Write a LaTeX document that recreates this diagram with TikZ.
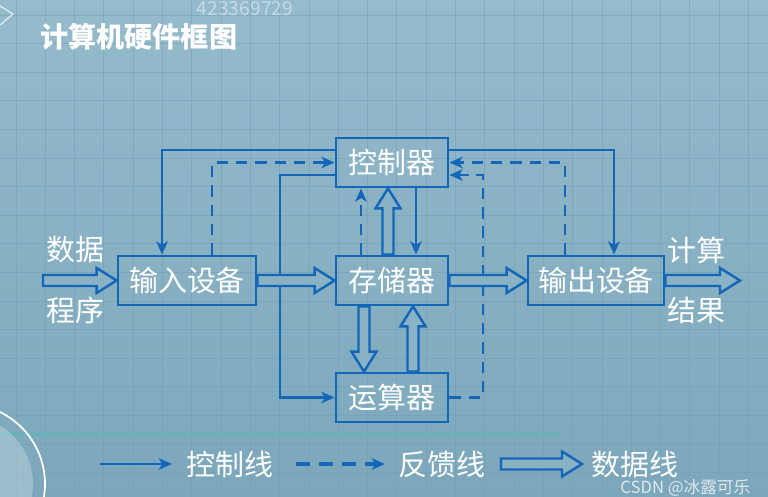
\documentclass[tikz,border=0pt]{standalone}
\usepackage{fontspec}
\setmainfont{Noto Sans CJK SC}
\usetikzlibrary{arrows.meta,calc,positioning}

\definecolor{bgtop}{RGB}{149,187,204}
\definecolor{bgbot}{RGB}{124,167,187}
\definecolor{bgmid}{RGB}{137,178,196}
\definecolor{gridc}{RGB}{112,155,177}
\definecolor{lineblue}{RGB}{20,102,184}
\definecolor{bandc}{RGB}{104,178,186}

\tikzset{
  unitbox/.style={draw=lineblue, line width=1.6pt, inner sep=0pt,
    minimum width=2.24cm, minimum height=0.98cm, text=white,
    font=\fontsize{16.5}{18}\selectfont},
  lbl/.style={inner sep=0pt, text=white, font=\fontsize{16.5}{18}\selectfont},
  ctl/.style={draw=lineblue, line width=1.6pt,
    -{Stealth[length=7.5pt,width=6.5pt,inset=2pt]}},
  fb/.style={ctl, dash pattern=on 6.5pt off 4.5pt},
  dataarrow/.style={draw=lineblue, line width=1.4pt, fill=bgmid,
    to path={($(\tikztotarget)!0.4cm!(\tikztostart)$) coordinate (db)
      ($(\tikztostart)!0.11cm!90:(\tikztotarget)$)
      -- ($(db)!0.11cm!-90:(\tikztostart)$)
      -- ($(db)!0.25cm!-90:(\tikztostart)$)
      -- (\tikztotarget)
      -- ($(db)!0.25cm!90:(\tikztostart)$)
      -- ($(db)!0.11cm!90:(\tikztostart)$)
      -- ($(\tikztostart)!0.11cm!-90:(\tikztotarget)$) -- cycle}},
  gridline/.style={draw=gridc, line width=0.5pt, opacity=0.45}
}

\begin{document}
\begin{tikzpicture}[x=0.02cm, y=-0.02cm]
  \useasboundingbox (0,0) rectangle (768,497);

  % Background
  \shade[top color=bgtop, bottom color=bgbot] (0,0) rectangle (768,497);
  \foreach \i in {0,...,26}
    \draw[gridline] ({16+29.3*\i},0) -- ({16+29.3*\i},497);
  \foreach \i in {0,...,17}
    \draw[gridline] (0,{15+28.6*\i}) -- (768,{15+28.6*\i});
  \draw[bandc, line width=2pt, opacity=0.8] (0,434) -- (560,434);
  \fill[white, opacity=0.25] (-35,484) circle (1.36cm);
  \draw[white, line width=1pt] (-35,484) circle (1.6cm);
  \draw[white, line width=0.6pt, opacity=0.8] (0,6) -- (13,14) -- (0,25);
  \node[text=white, opacity=0.45, font=\fontsize{11}{13}\selectfont] (wm1) at (245,9) {423369729};

  \node[anchor=west, inner sep=0pt, text=white,
    font=\bfseries\fontsize{16}{18}\selectfont] (title) at (40,37) {计算机硬件框图};

  % Units
  \node[unitbox] (ctrl) at (392,162.5) {控制器};
  \node[unitbox, minimum width=2.76cm] (in) at (187,280.5) {输入设备};
  \node[unitbox] (mem) at (392,280.5) {存储器};
  \node[unitbox, minimum width=2.72cm] (out) at (596,280.5) {输出设备};
  \node[unitbox] (alu) at (392,397.5) {运算器};

  \coordinate (lk) at (162,150);
  \coordinate (rk) at (614,150);
  \coordinate (ak1) at (280,175);
  \coordinate (ak2) at (280,397.5);
  \coordinate (cm) at (416,220);
  \coordinate (fk1) at (212,162.5);
  \coordinate (fk2) at (565,162.5);
  \coordinate (fk3) at (483,397.5);
  \coordinate (fk4) at (483,175);
  \coordinate (fm) at (361,220);
  \coordinate (src) at (43,280.5);
  \coordinate (dst) at (740,280.5);
  \coordinate (d1) at (388,220);
  \coordinate (d2) at (364,340);
  \coordinate (d3) at (413,340);

  % Control lines
  \draw[ctl] (ctrl.west |- lk) -- (lk) -- (in.north -| lk);
  \draw[ctl] (ctrl.east |- rk) -- (rk) -- (out.north -| rk);
  \draw[ctl] (ctrl.south -| cm) -- (mem.north -| cm);
  \draw[ctl] (ctrl.west |- ak1) -- (ak1) -- (ak2) -- (alu.west);

  % Feedback lines
  \draw[fb] (in.north -| fk1) -- (fk1) -- (ctrl.west);
  \draw[fb] (mem.north -| fm) -- (ctrl.south -| fm);
  \draw[fb] (out.north -| fk2) -- (fk2) -- (ctrl.east);
  \draw[fb] (alu.east) -- (fk3) -- (fk4) -- (ctrl.east |- fk4);

  % Data lines
  \draw[dataarrow] (src) to (in.west);
  \draw[dataarrow] (in.east) to (mem.west);
  \draw[dataarrow] (mem.east) to (out.west);
  \draw[dataarrow] (out.east) to (dst);
  \draw[dataarrow] (mem.north -| d1) to (ctrl.south -| d1);
  \draw[dataarrow] (mem.south -| d2) to (alu.north -| d2);
  \draw[dataarrow] (alu.north -| d3) to (mem.south -| d3);

  \node[lbl] (inA) at (75,250) {数据};
  \node[lbl] (inB) at (75,310) {程序};
  \node[lbl] (outA) at (696,250) {计算};
  \node[lbl] (outB) at (696,310) {结果};

  % Legend
  \coordinate (l1a) at (100,464);
  \coordinate (l1b) at (172,464);
  \coordinate (l2a) at (296,464);
  \coordinate (l2b) at (385,464);
  \coordinate (l3a) at (501,464);
  \coordinate (l3b) at (582,464);
  \draw[ctl] (l1a) -- (l1b);
  \node[lbl, anchor=west, right=0.28cm of l1b] (t1) {控制线};
  \draw[fb, dash pattern=on 8pt off 5pt, line width=2pt] (l2a) -- (l2b);
  \node[lbl, anchor=west, right=0.26cm of l2b] (t2) {反馈线};
  \draw[dataarrow] (l3a) to (l3b);
  \node[lbl, anchor=west, right=0.18cm of l3b] (t3) {数据线};

  \node[anchor=west, inner sep=0pt, text=white, opacity=0.75,
    font=\fontsize{9.5}{11}\selectfont] (wm2) at (620,488) {CSDN @冰露可乐};
\end{tikzpicture}
\end{document}
